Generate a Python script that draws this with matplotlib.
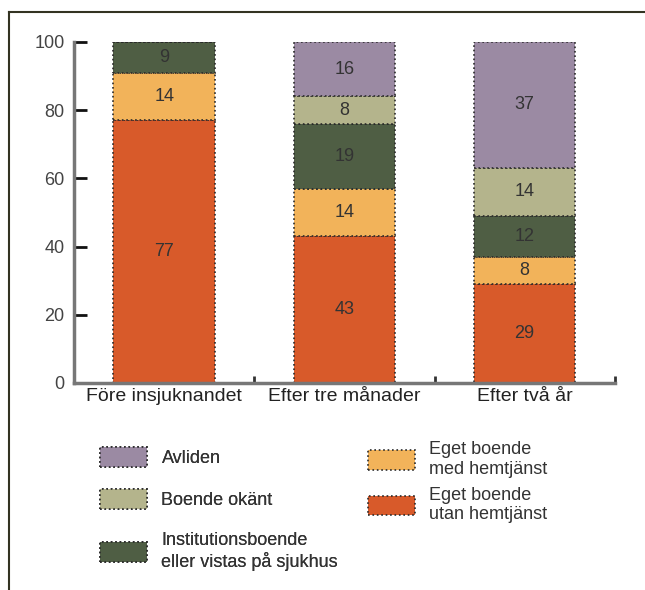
import matplotlib.pyplot as plt
from matplotlib.lines import Line2D
import numpy as np

plt.rcParams['font.family'] = ['Liberation Sans Narrow', 'Liberation Sans', 'DejaVu Sans']

# Data (percent)
categories = ['Före insjuknandet', 'Efter tre månader', 'Efter två år']
utan_hemtjanst = [77, 43, 29]
med_hemtjanst = [14, 14, 8]
institution = [9, 19, 12]
okant = [0, 8, 14]
avliden = [0, 16, 37]

series = [
    ('Eget boende\nutan hemtjänst', utan_hemtjanst, '#d85a2a'),
    ('Eget boende\nmed hemtjänst', med_hemtjanst, '#f2b35a'),
    ('Institutionsboende\neller vistas på sjukhus', institution, '#4f5e44'),
    ('Boende okänt', okant, '#b4b48c'),
    ('Avliden', avliden, '#9b8aa3'),
]

fig = plt.figure(figsize=(6.45, 5.9), dpi=100)
ax = fig.add_axes([0.115, 0.351, 0.838, 0.578])

x = np.arange(len(categories))
bottom = np.zeros(len(categories))
handles = {}
for name, vals, col in series:
    vals = np.array(vals, dtype=float)
    bars = ax.bar(x, vals, 0.565, bottom=bottom, color=col, edgecolor='#2a2a2a',
                  linewidth=1.2, linestyle=':', label=name)
    handles[name] = bars
    for xi, v, b in zip(x, vals, bottom):
        if v > 0:
            ax.text(xi, b + v / 2, f'{int(v)}', ha='center', va='center',
                    fontsize=13, color='#333333')
    bottom += vals

ax.set_xlim(-0.5, 2.5)
ax.set_ylim(0, 100)
ax.set_yticks([0, 20, 40, 60, 80, 100])
ax.set_xticks(x)
ax.set_xticklabels(categories, fontsize=14, color='#222222')
ax.set_xticks([0.5, 1.5, 2.5], minor=True)
ax.tick_params(axis='x', which='major', length=0, pad=4)
ax.tick_params(axis='x', which='minor', direction='in', length=5, width=2, color='#333333')
ax.tick_params(axis='y', direction='in', length=9, width=2, color='#111111',
               labelsize=13, labelcolor='#444444', pad=7)
for s in ['top', 'right']:
    ax.spines[s].set_visible(False)
for s in ['left', 'bottom']:
    ax.spines[s].set_color('#777777')
    ax.spines[s].set_linewidth(2.5)

# frame lines (top and left)
fig.add_artist(Line2D([0.014, 1.0], [0.980, 0.980], color='#333322', lw=1.5))
fig.add_artist(Line2D([0.014, 0.014], [0.0, 0.980], color='#333322', lw=1.5))

left_names = ['Avliden', 'Boende okänt', 'Institutionsboende\neller vistas på sjukhus']
right_names = ['Eget boende\nmed hemtjänst', 'Eget boende\nutan hemtjänst']

leg1 = fig.legend([handles[n] for n in left_names], left_names, loc='upper left',
                  bbox_to_anchor=(0.13, 0.27), frameon=False, fontsize=13,
                  handlelength=2.6, handleheight=1.3, handletextpad=0.8,
                  labelspacing=1.25, labelcolor='#333333')
leg2 = fig.legend([handles[n] for n in right_names], right_names, loc='upper left',
                  bbox_to_anchor=(0.545, 0.28), frameon=False, fontsize=13,
                  handlelength=2.6, handleheight=1.3, handletextpad=0.8,
                  labelspacing=0.5, labelcolor='#333333')
fig.add_artist(leg1)

fig.savefig('out.png', dpi=100)
